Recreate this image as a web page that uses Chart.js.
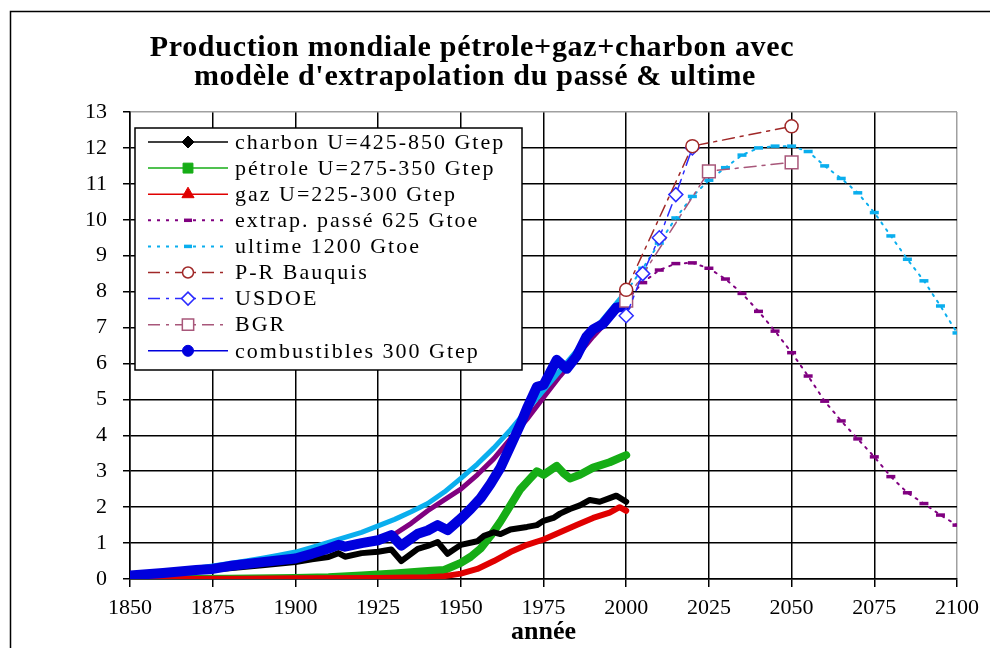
<!DOCTYPE html>
<html lang="fr">
<head>
<meta charset="utf-8">
<title>Production mondiale pétrole+gaz+charbon</title>
<script src="https://cdn.jsdelivr.net/npm/chart.js@4.4.1/dist/chart.umd.min.js"></script>
<style>
    html, body { margin: 0; padding: 0; background: #ffffff; }
    .cadre { width: 990px; height: 648px; position: relative; }
</style>
</head>
<body>
<div class="cadre"><canvas id="graficoProducao"></canvas></div>
<script>
// titre (2 lignes)
const titreLignes = [
    'Production mondiale pétrole+gaz+charbon avec',
    "modèle d'extrapolation du passé & ultime"
];

// graduations des axes
const ticksAnnees = [1850, 1875, 1900, 1925, 1950, 1975, 2000, 2025, 2050, 2075, 2100];
const ticksGtep = [0, 1, 2, 3, 4, 5, 6, 7, 8, 9, 10, 11, 12, 13];

// production historique (Gtep)
const anneesCharbon = [1850, 1860, 1870, 1880, 1890, 1900, 1905, 1910, 1913, 1915, 1920, 1925, 1929, 1932, 1937,
    1940, 1943, 1946, 1950, 1955, 1957, 1960, 1962, 1965, 1970, 1973, 1975, 1978, 1980, 1983, 1986, 1989, 1992, 1995, 1997, 2000];
const charbon = [0.1, 0.15, 0.22, 0.3, 0.38, 0.47, 0.55, 0.61, 0.72, 0.62, 0.72, 0.76, 0.82, 0.5, 0.84,
    0.92, 1.03, 0.7, 0.95, 1.05, 1.2, 1.3, 1.25, 1.38, 1.45, 1.5, 1.62, 1.7, 1.82, 1.95, 2.05, 2.2, 2.15, 2.25, 2.32, 2.15];

const anneesPetrole = [1860, 1880, 1900, 1910, 1920, 1930, 1940, 1945, 1950, 1953, 1956, 1959, 1962, 1965, 1968,
    1971, 1973, 1975, 1979, 1981, 1983, 1986, 1990, 1995, 2000];
const petrole = [0, 0.01, 0.03, 0.05, 0.1, 0.15, 0.22, 0.25, 0.45, 0.62, 0.85, 1.2, 1.6, 2.05, 2.5,
    2.8, 3.0, 2.9, 3.15, 2.95, 2.8, 2.9, 3.1, 3.25, 3.45];

const anneesGaz = [1850, 1885, 1900, 1925, 1940, 1945, 1950, 1955, 1960, 1965, 1970, 1975, 1980, 1985, 1990, 1995, 1998, 2000];
const gaz = [0, 0.01, 0.02, 0.03, 0.05, 0.08, 0.15, 0.28, 0.5, 0.75, 0.95, 1.1, 1.3, 1.5, 1.7, 1.85, 2.0, 1.9];

const anneesCombustibles = [1850, 1860, 1870, 1875, 1880, 1890, 1900, 1905, 1910, 1913, 1915, 1920, 1925, 1929, 1932,
    1937, 1940, 1943, 1946, 1950, 1953, 1956, 1959, 1962, 1965, 1968, 1970, 1973, 1975, 1979, 1982, 1985, 1988, 1990, 1993, 1997, 2000];
const combustibles = [0.1, 0.17, 0.25, 0.28, 0.36, 0.47, 0.57, 0.7, 0.85, 0.95, 0.9, 1.0, 1.08, 1.22, 0.93,
    1.26, 1.35, 1.5, 1.36, 1.68, 1.95, 2.25, 2.65, 3.1, 3.7, 4.3, 4.75, 5.35, 5.4, 6.1, 5.85, 6.2, 6.75, 6.95, 7.1, 7.55, 7.6];

// modèles
const anneesUltime = [1850, 1855, 1860, 1865, 1870, 1875, 1880, 1885, 1890, 1895, 1900, 1905, 1910, 1915, 1920, 1925,
    1930, 1935, 1940, 1945, 1950, 1955, 1960, 1965, 1970, 1975, 1980, 1985, 1990, 1995, 2000, 2005, 2010, 2015,
    2020, 2025, 2030, 2035, 2040, 2045, 2050, 2055, 2060, 2065, 2070, 2075, 2080, 2085, 2090, 2095, 2100];
const ultime = [0.1, 0.14, 0.19, 0.24, 0.3, 0.36, 0.43, 0.5, 0.58, 0.66, 0.75, 0.88, 1.02, 1.16, 1.3, 1.48,
    1.66, 1.87, 2.1, 2.42, 2.8, 3.2, 3.65, 4.15, 4.7, 5.25, 5.8, 6.35, 6.9, 7.45, 8.0, 8.65, 9.35, 10.05,
    10.65, 11.1, 11.45, 11.8, 12.0, 12.05, 12.05, 11.9, 11.5, 11.15, 10.75, 10.2, 9.55, 8.9, 8.3, 7.6, 6.85];

const anneesExtrap = [1930, 1935, 1940, 1945, 1950, 1955, 1960, 1965, 1970, 1975, 1980, 1985, 1990, 1995, 2000,
    2005, 2010, 2015, 2020, 2025, 2030, 2035, 2040, 2045, 2050, 2055, 2060, 2065, 2070, 2075, 2080, 2085, 2090, 2095, 2100];
const extrapPasse = [1.25, 1.55, 1.9, 2.2, 2.5, 2.9, 3.35, 3.9, 4.45, 5.05, 5.65, 6.2, 6.75, 7.25, 7.75,
    8.25, 8.6, 8.78, 8.8, 8.65, 8.35, 7.95, 7.45, 6.9, 6.3, 5.65, 4.95, 4.4, 3.9, 3.4, 2.85, 2.4, 2.1, 1.78, 1.5];

// prévisions
const anneesBauquis = [2000, 2020, 2050];
const bauquis = [8.05, 12.05, 12.6];
const anneesUsdoe = [2000, 2005, 2010, 2015, 2020];
const usdoe = [7.33, 8.5, 9.5, 10.7, 12.0];
const anneesBgr = [2000, 2025, 2050];
const bgr = [7.75, 11.35, 11.6];

const policeSerif = '"Liberation Serif", "Times New Roman", serif';
Chart.defaults.font.family = policeSerif;
Chart.defaults.color = '#000';

const versPoints = (annees, valeurs) => annees.map((a, i) => ({ x: a, y: valeurs[i] }));

// après 2000 : trait pointillé + tirets
const futur = ctx => ctx.p0.parsed.x >= 2000;
const tiretFutur = ctx => (ctx.raw && ctx.raw.x > 2000 ? 4.5 : 0);
const traitPrevision = [12, 6, 3, 6];

// cadre extérieur
const cadrePlugin = {
    id: 'cadre',
    afterDraw(chart) {
        const ctx = chart.ctx;
        ctx.save();
        ctx.strokeStyle = '#000';
        ctx.lineWidth = 1.5;
        ctx.strokeRect(10.5, 11.5, 1200, 1000);
        ctx.restore();
    }
};

// titre décalé à gauche comme dans l'original
const titrePlugin = {
    id: 'titre',
    afterDraw(chart) {
        const ctx = chart.ctx;
        ctx.save();
        ctx.font = 'bold 30px ' + policeSerif;
        ctx.letterSpacing = '0.7px';
        ctx.fillStyle = '#000';
        ctx.textAlign = 'center';
        ctx.textBaseline = 'alphabetic';
        ctx.fillText(titreLignes[0], 472, 56);
        ctx.fillText(titreLignes[1], 475, 85);
        ctx.restore();
    }
};

// légende encadrée dans la zone du graphique
const legendePlugin = {
    id: 'legendeEncadree',
    afterDatasetsDraw(chart) {
        const ctx = chart.ctx;
        const area = chart.chartArea;
        const x0 = area.left + 5;
        const y0 = area.top + 16;
        const larg = 387;
        const haut = 242;

        ctx.save();
        ctx.fillStyle = '#fff';
        ctx.fillRect(x0, y0, larg, haut);
        ctx.strokeStyle = '#000';
        ctx.lineWidth = 1.5;
        ctx.strokeRect(x0, y0, larg, haut);

        chart.data.datasets.forEach((ds, i) => {
            const leg = ds.legende;
            const y = y0 + 14 + i * 26.1;

            ctx.beginPath();
            ctx.setLineDash(leg.trait || []);
            ctx.lineWidth = leg.epaisseur;
            ctx.strokeStyle = ds.borderColor;
            ctx.moveTo(x0 + 13, y);
            ctx.lineTo(x0 + 93, y);
            ctx.stroke();
            ctx.setLineDash([]);

            ctx.fillStyle = leg.fond || ds.borderColor;
            ctx.lineWidth = leg.bord;
            Chart.helpers.drawPoint(ctx, {
                pointStyle: ds.pointStyle,
                radius: leg.rayon,
                borderWidth: leg.bord
            }, x0 + 53, y);

            ctx.fillStyle = '#000';
            ctx.font = '22px ' + policeSerif;
            ctx.letterSpacing = '2px';
            ctx.textAlign = 'left';
            ctx.textBaseline = 'middle';
            ctx.fillText(ds.label, x0 + 100, y + 1);
            ctx.letterSpacing = '0px';
        });
        ctx.restore();
    }
};

const grafico = new Chart(document.getElementById('graficoProducao'), {
    type: 'line',
    data: {
        datasets: [
            {
                label: 'charbon U=425-850 Gtep',
                data: versPoints(anneesCharbon, charbon),
                borderColor: '#000000',
                backgroundColor: '#000000',
                borderWidth: 6,
                pointRadius: 0,
                pointStyle: 'rectRot',
                order: 5,
                legende: { epaisseur: 1.5, rayon: 6, bord: 1 }
            },
            {
                label: 'pétrole U=275-350 Gtep',
                data: versPoints(anneesPetrole, petrole),
                borderColor: '#16ad16',
                backgroundColor: '#16ad16',
                borderWidth: 8,
                pointRadius: 0,
                pointStyle: 'rect',
                order: 6,
                legende: { epaisseur: 1.5, rayon: 7, bord: 1 }
            },
            {
                label: 'gaz U=225-300 Gtep',
                data: versPoints(anneesGaz, gaz),
                borderColor: '#e00000',
                backgroundColor: '#e00000',
                borderWidth: 6,
                pointRadius: 0,
                pointStyle: 'triangle',
                order: 4,
                legende: { epaisseur: 1.5, rayon: 7, bord: 1 }
            },
            {
                label: 'extrap. passé 625 Gtoe',
                data: versPoints(anneesExtrap, extrapPasse),
                borderColor: '#800080',
                backgroundColor: '#800080',
                borderWidth: 5,
                segment: {
                    borderDash: ctx => (futur(ctx) ? [2, 6] : undefined),
                    borderWidth: ctx => (futur(ctx) ? 2 : undefined)
                },
                pointRadius: tiretFutur,
                pointBorderWidth: 3.5,
                pointStyle: 'line',
                order: 3,
                legende: { trait: [3, 6], epaisseur: 2, rayon: 4, bord: 3.5 }
            },
            {
                label: 'ultime 1200 Gtoe',
                data: versPoints(anneesUltime, ultime),
                borderColor: '#0aaeee',
                backgroundColor: '#0aaeee',
                borderWidth: 5,
                segment: {
                    borderDash: ctx => (futur(ctx) ? [2, 6] : undefined),
                    borderWidth: ctx => (futur(ctx) ? 2 : undefined)
                },
                pointRadius: tiretFutur,
                pointBorderWidth: 3.5,
                pointStyle: 'line',
                order: 2,
                legende: { trait: [3, 6], epaisseur: 2, rayon: 4, bord: 3.5 }
            },
            {
                label: 'P-R Bauquis',
                data: versPoints(anneesBauquis, bauquis),
                borderColor: '#a02828',
                borderWidth: 1.5,
                borderDash: traitPrevision,
                pointStyle: 'circle',
                pointRadius: 6.5,
                pointBackgroundColor: '#ffffff',
                pointBorderWidth: 1.5,
                order: 0,
                legende: { trait: traitPrevision, epaisseur: 1.5, rayon: 5.5, bord: 1.5, fond: '#ffffff' }
            },
            {
                label: 'USDOE',
                data: versPoints(anneesUsdoe, usdoe),
                borderColor: '#2b2bff',
                borderWidth: 1.5,
                borderDash: traitPrevision,
                pointStyle: 'rectRot',
                pointRadius: 7,
                pointBackgroundColor: '#ffffff',
                pointBorderWidth: 1.5,
                order: 0,
                legende: { trait: traitPrevision, epaisseur: 1.5, rayon: 6.5, bord: 1.5, fond: '#ffffff' }
            },
            {
                label: 'BGR',
                data: versPoints(anneesBgr, bgr),
                borderColor: '#a8577a',
                borderWidth: 1.5,
                borderDash: traitPrevision,
                pointStyle: 'rect',
                pointRadius: 9,
                pointBackgroundColor: '#ffffff',
                pointBorderWidth: 1.5,
                order: 0,
                legende: { trait: traitPrevision, epaisseur: 1.5, rayon: 8, bord: 1.5, fond: '#ffffff' }
            },
            {
                label: 'combustibles 300 Gtep',
                data: versPoints(anneesCombustibles, combustibles),
                borderColor: '#0000dd',
                backgroundColor: '#0000dd',
                borderWidth: 10,
                pointRadius: 0,
                pointStyle: 'circle',
                order: 1,
                legende: { epaisseur: 1.5, rayon: 5.5, bord: 1 }
            }
        ]
    },
    options: {
        responsive: true,
        maintainAspectRatio: false,
        animation: false,
        events: [],
        layout: { padding: { top: 112, right: 33, bottom: 0, left: 0 } },
        elements: {
            line: { tension: 0, fill: false, borderJoinStyle: 'round', borderCapStyle: 'round' }
        },
        plugins: {
            legend: { display: false },
            title: { display: false },
            tooltip: { enabled: false }
        },
        scales: {
            x: {
                type: 'linear',
                min: 1850,
                max: 2100,
                afterBuildTicks: axis => { axis.ticks = ticksAnnees.map(v => ({ value: v })); },
                afterFit: axis => { axis.height = 69; },
                grid: {
                    color: ctx => (ctx.tick && ctx.tick.value === 2100 ? '#a0a0a0' : '#000'),
                    tickColor: '#000',
                    lineWidth: 1.5,
                    tickLength: 8
                },
                border: { color: '#000', width: 1.5 },
                ticks: {
                    padding: 8,
                    autoSkip: false,
                    maxRotation: 0,
                    font: { size: 22 },
                    callback: v => String(v)
                },
                title: {
                    display: true,
                    text: 'année',
                    font: { size: 26, weight: 'bold' },
                    padding: 0
                }
            },
            y: {
                type: 'linear',
                min: 0,
                max: 13,
                afterBuildTicks: axis => { axis.ticks = ticksGtep.map(v => ({ value: v })); },
                afterFit: axis => { axis.width = 130; },
                grid: {
                    color: ctx => (ctx.tick && ctx.tick.value === 13 ? '#a0a0a0' : '#000'),
                    tickColor: '#000',
                    lineWidth: 1.5,
                    tickLength: 7
                },
                border: { color: '#000', width: 1.5 },
                ticks: {
                    padding: 16,
                    font: { size: 22 },
                    callback: v => String(v)
                }
            }
        }
    },
    plugins: [legendePlugin, titrePlugin, cadrePlugin]
});
</script>
</body>
</html>
